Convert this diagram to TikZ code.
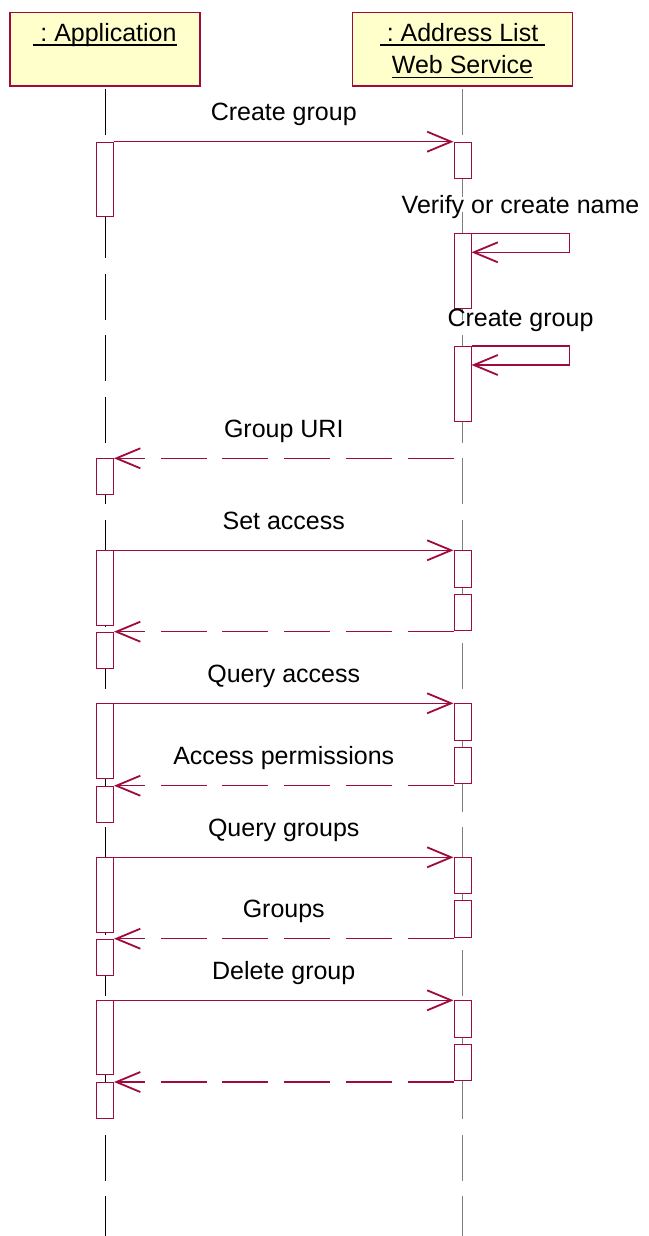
\documentclass[tikz,border=0pt]{standalone}
\usepackage{fontspec}
\setmainfont{Liberation Sans}
\usetikzlibrary{arrows.meta}
\definecolor{umlred}{RGB}{160,10,60}
\definecolor{objfill}{RGB}{255,255,204}
\definecolor{lifegray}{RGB}{128,128,128}
\frenchspacing
% underlined object name
\newcommand{\ulname}[1]{\setbox0\hbox{#1}\rlap{\rule[-4.3pt]{\wd0}{1.6pt}}\box0}
\begin{document}
\begin{tikzpicture}[
    x=1pt, y=-1pt,
    every node/.style={font=\fontsize{25}{32.6}\selectfont},
    object/.style={rectangle, draw=umlred, fill=objfill, line width=1.3pt, minimum height=73.6pt, anchor=north, align=center, inner sep=0pt},
    act/.style={rectangle, draw=umlred, fill=white, line width=1pt, minimum width=17pt, minimum height=#1, anchor=north, inner sep=0pt},
    lifeline/.style={dash pattern=on 46pt off 15.5pt},
    call/.style={draw=umlred, line width=1.2pt, -{Straight Barb[length=24pt, width=20pt, line width=1.8pt]}},
    reply/.style={call, dash pattern=on 46pt off 15.7pt},
    msg/.style={anchor=base, yshift=21pt, inner sep=0pt}
]
    \useasboundingbox (0,0) rectangle (648,1236);

    % Objects
    \node[object, minimum width=190pt, text height=18pt, text depth=33.6pt] (app) at (105,11.7) {\ulname{\ : Application}};
    \node[object, minimum width=219.4pt, text height=50.6pt, text depth=1pt] (ws) at (462.5,11.7) {\ulname{\ : Address List\ }\\\ulname{Web Service}};

    % Lifelines
    \coordinate (append) at (105,1236);
    \coordinate (wsend) at (462.5,1236);
    \draw[lifeline, black, line width=1pt] ([yshift=-2.7pt]app.south) -- (append);
    \draw[lifeline, lifegray, line width=1.6pt] ([yshift=-2.7pt]ws.south -| wsend) -- (wsend);

    % Application activations
    \node[act=74.6pt] (a1) at (105,141.7) {};
    \node[act=36pt] (a2) at (105,458.3) {};
    \node[act=74.7pt] (a3) at (105,550.3) {};
    \node[act=36.6pt] (a4) at (105,631.7) {};
    \node[act=75pt] (a5) at (105,703.3) {};
    \node[act=36pt] (a6) at (105,785.7) {};
    \node[act=74.4pt] (a7) at (105,857.3) {};
    \node[act=36.3pt] (a8) at (105,938.7) {};
    \node[act=74pt] (a9) at (105,1000.3) {};
    \node[act=36.3pt] (a10) at (105,1082) {};

    % Web service activations
    \node[act=36pt] (b1) at (462.5,141.7) {};
    \node[act=74.4pt] (b2) at (462.5,233.3) {};
    \node[act=74.7pt] (b3) at (462.5,346) {};
    \node[act=36.4pt] (b4) at (462.5,550.3) {};
    \node[act=36.3pt] (b5) at (462.5,593.7) {};
    \node[act=36.7pt] (b6) at (462.5,703.3) {};
    \node[act=36pt] (b7) at (462.5,747.3) {};
    \node[act=36pt] (b8) at (462.5,857.3) {};
    \node[act=36.4pt] (b9) at (462.5,900.3) {};
    \node[act=36.4pt] (b10) at (462.5,1000.3) {};
    \node[act=36pt] (b11) at (462.5,1043.7) {};

    % Messages
    \draw[call] (a1.north east) -- node[msg] {Create group} (b1.north west);
    \draw[call] (b2.north east) -- node[msg, yshift=-0.7pt] {Verify or create name} ++(98,0) |- ([yshift=-19pt]b2.north east);
    \draw[call] (b3.north east) -- node[msg, yshift=-1.7pt] {Create group} ++(98,0) |- ([yshift=-19pt]b3.north east);
    \draw[reply] (b3.west |- a2.north) -- node[msg] {Group URI} (a2.north east);
    \draw[call] (a3.north east) -- node[msg] {Set access} (b4.north west);
    \draw[reply] (b5.west |- a4.north) -- (a4.north east);
    \draw[call] (a5.north east) -- node[msg] {Query access} (b6.north west);
    \draw[reply] (b7.west |- a6.north) -- node[msg] {Access permissions} (a6.north east);
    \draw[call] (a7.north east) -- node[msg] {Query groups} (b8.north west);
    \draw[reply] (b9.west |- a8.north) -- node[msg] {Groups} (a8.north east);
    \draw[call] (a9.north east) -- node[msg] {Delete group} (b10.north west);
    \draw[reply] (b11.west |- a10.north) -- (a10.north east);
\end{tikzpicture}
\end{document}
